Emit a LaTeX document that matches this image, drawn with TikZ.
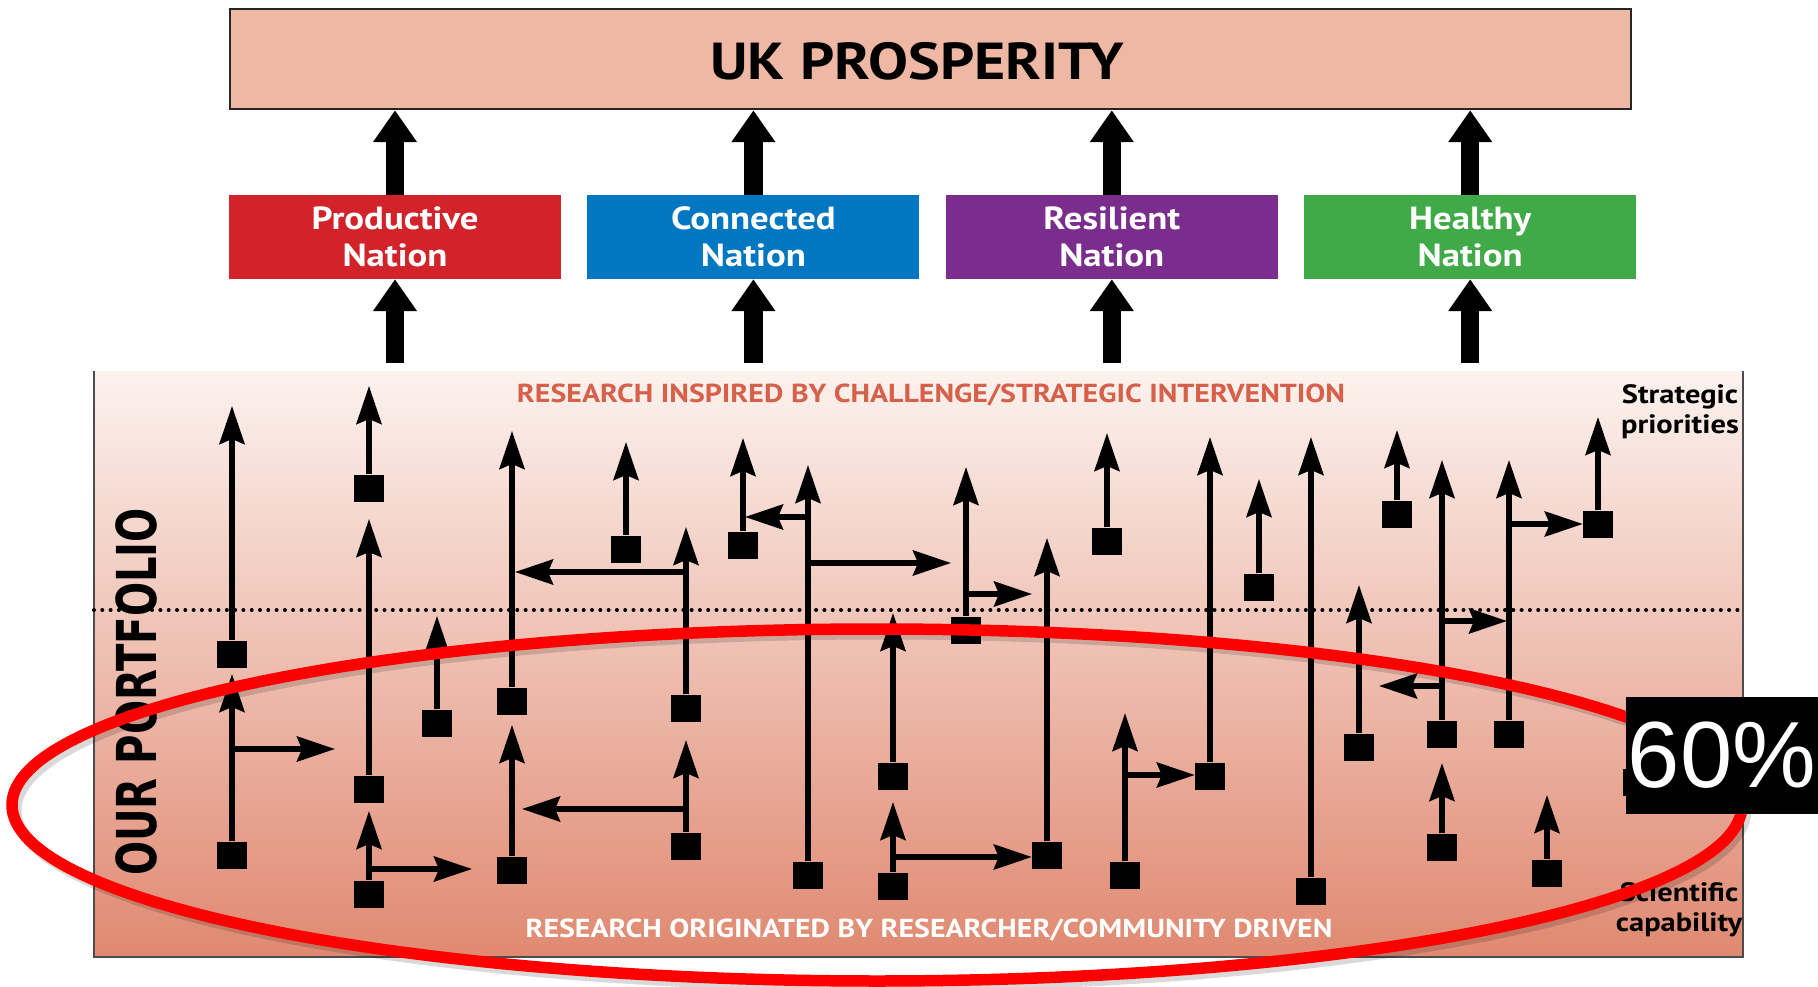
\documentclass[tikz,border=0pt]{standalone}
\usepackage{fontspec}
\setmainfont{PT Sans}[FakeStretch=1.15]
\newfontfamily\arialfont{Liberation Sans}
\newfontfamily\portfont{DejaVu Sans}
\usetikzlibrary{arrows.meta,positioning}
\definecolor{ukpink}{RGB}{238,184,165}
\definecolor{prodred}{RGB}{210,35,42}
\definecolor{connblue}{RGB}{0,119,192}
\definecolor{resipurple}{RGB}{123,45,142}
\definecolor{healgreen}{RGB}{64,170,73}
\definecolor{paneltop}{RGB}{252,242,238}
\definecolor{panelmid}{RGB}{240,198,185}
\definecolor{panelbot}{RGB}{224,137,113}
\definecolor{inspired}{RGB}{214,96,74}

\tikzset{
  nation/.style={minimum width=332pt, minimum height=84pt, inner sep=0pt,
    text=white, align=center, font=\fontsize{32}{37}\selectfont\bfseries},
  bigarrow/.style={line width=18.5pt, -{Triangle[length=32pt,width=42pt]}},
  sq/.style={fill=black, minimum width=30pt, minimum height=27pt, inner sep=0pt},
  arr/.style={line width=5.2pt, -{Stealth[length=38pt,width=25pt,inset=5pt]}},
  corner/.style={font=\fontsize{26.5}{30}\selectfont\bfseries, align=center},
  banner/.style={anchor=base, font=\fontsize{26}{26}\selectfont\bfseries},
}

\begin{document}
\begin{tikzpicture}[x=1pt,y=-1pt,node distance=26pt]
   \useasboundingbox (0,0) rectangle (1818,987);

   \node[draw=black!85, line width=2.5pt, fill=ukpink, minimum width=1401pt,
         minimum height=100pt, inner sep=0pt] (uk) at (930.5,59) {};
   \node[font=\fontsize{52}{52}\selectfont\bfseries] (uklabel) at (917,61) {UK PROSPERITY};

   \node[nation, fill=prodred] (prod) at (395,237) {Productive\\Nation};
   \node[nation, fill=connblue] (conn) [right=of prod] {Connected\\Nation};
   \node[nation, fill=resipurple] (resi) [right=of conn] {Resilient\\Nation};
   \node[nation, fill=healgreen] (heal) [right=of resi] {Healthy\\Nation};

   \shade[top color=paneltop, middle color=panelmid, bottom color=panelbot]
      (94,371) rectangle (1743,957);
   \draw[black!70, line width=1.5pt] (94,371) -- (94,957) -- (1743,957) -- (1743,371);
   \draw[line width=4pt, line cap=round, dash pattern=on 0pt off 8.3pt] (94,610) -- (1743,610);

   \foreach \n in {prod,conn,resi,heal} {
      \draw[bigarrow] (\n.north) -- (\n.north |- uk.south);
      \path (\n.south) ++(0,84) coordinate (\n in);
      \draw[bigarrow] (\n in) -- (\n.south);
   }

   \node[banner, text=inspired] (top) at (931,402)
      {RESEARCH INSPIRED BY CHALLENGE/STRATEGIC INTERVENTION};
   \node[banner, text=white] (bottom) at (929,937)
      {RESEARCH ORIGINATED BY RESEARCHER/COMMUNITY DRIVEN};
   \node[corner] (strat) at (1680,412) {Strategic\\priorities};
   \node[corner] (scien) at (1679,910) {Scientific\\capability};
   \node[rotate=90, xscale=0.73, font=\portfont\bfseries\fontsize{55}{55}\selectfont]
      (portfolio) at (136,692) {OUR PORTFOLIO};

   \foreach \n/\x/\y/\t in {a1/232/654/406, a2/232/855/674, b1/369/488/386,
         b2/369/789/519, b3/369/894/811, c1/437/723/616, d1/512/701/431,
         d2/512/870/725, e1/626/549/442, f1/686/708/527, f2/686/846/740,
         g1/743/545/438, h1/808/875/465, i1/893/776/613, i2/893/886/802,
         j1/966/630/467, k1/1047/855/538, l1/1107/541/433, m1/1125/875/713,
         n1/1210/776/437, o1/1259/587/479, p1/1311/891/437, q1/1359/747/585,
         r1/1397/514/430, s1/1442/734/460, s2/1442/847/763, t1/1509/734/460,
         u1/1547/873/795, v1/1598/524/417} {
      \node[sq] (\n) at (\x,\y) {};
      \coordinate (\n t) at (\x,\t);
      \draw[arr] (\n) -- (\n t);
   }
   \node[sq] (w1) at (1638,782) {};

   \foreach \b/\x/\y/\t in {a2r/232/749/335, b3r/369/869/472, f1l/686/572/515,
         f2l/686/809/522, h1l/808/517/745, h1r/808/563/951, j1r/966/594/1032,
         s1l/1442/686/1379, s1r/1442/621/1507} {
      \coordinate (\b) at (\x,\y);
      \coordinate (\b e) at (\t,\y);
      \draw[arr] (\b) -- (\b e);
   }
   \coordinate (i2r) at (893,857);
   \coordinate (m1r) at (1125,775);
   \coordinate (t1r) at (1509,524);
   \draw[arr] (i2r) -- (i2r -| k1.west);
   \draw[arr] (m1r) -- (m1r -| n1.west);
   \draw[arr] (t1r) -- (t1r -| v1.west);

   \draw[black, opacity=0.15, line width=11pt] (881,810) ellipse [x radius=865pt, y radius=176pt];
   \draw[red, line width=11.5pt] (877,805) ellipse [x radius=865pt, y radius=176pt];

   \node[fill=black, text=white, font=\arialfont\fontsize{94}{94}\selectfont,
         minimum width=193pt, minimum height=117pt, inner sep=0pt] (pct) at (1722,755.5) {60\%};
\end{tikzpicture}
\end{document}
